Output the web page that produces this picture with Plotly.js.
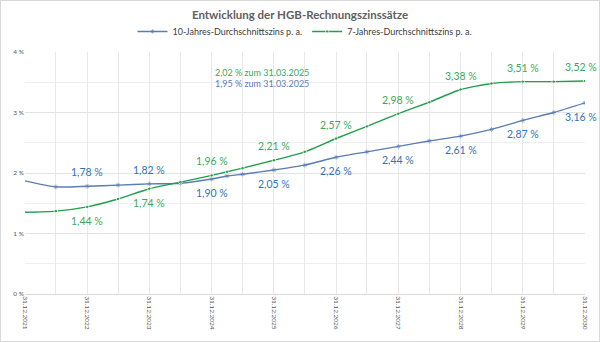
<!DOCTYPE html>
<html>
<head>
<meta charset="utf-8">
<script src="https://cdn.plot.ly/plotly-3.0.1.min.js"></script>
<style>
html,body{margin:0;padding:0;background:#fff;}
#wrap{position:absolute;left:0;top:0;width:598px;height:340px;border:1px solid #d9d9d9;}
#chart{position:absolute;left:-1px;top:-1px;width:600px;height:342px;}
</style>
</head>
<body>
<div id="wrap"><div id="chart"></div></div>
<script>
// Data
const dates = ['2021-12-31','2022-06-30','2022-12-31','2023-06-30','2023-12-31','2024-06-30','2024-12-31','2025-03-31','2025-06-30','2025-12-31','2026-06-30','2026-12-31','2027-06-30','2027-12-31','2028-06-30','2028-12-31','2029-06-30','2029-12-31','2030-06-30','2030-12-31'];
const zins10 = [1.87,1.77,1.78,1.80,1.82,1.83,1.90,1.95,1.98,2.05,2.13,2.26,2.35,2.44,2.53,2.61,2.72,2.87,3.00,3.16];
const zins7  = [1.35,1.37,1.44,1.57,1.74,1.85,1.96,2.02,2.08,2.21,2.35,2.57,2.77,2.98,3.17,3.38,3.48,3.51,3.51,3.52];
const name10 = '10-Jahres-Durchschnittszins p. a.';
const name7 = '7-Jahres-Durchschnittszins p. a.';
const yearEnds = ['2021-12-31','2022-12-31','2023-12-31','2024-12-31','2025-12-31','2026-12-31','2027-12-31','2028-12-31','2029-12-31','2030-12-31'];
const gridDates = ['2021-12-31','2022-06-30','2022-12-31','2023-06-30','2023-12-31','2024-06-30','2024-12-31','2025-06-30','2025-12-31','2026-06-30','2026-12-31','2027-06-30','2027-12-31','2028-06-30','2028-12-31','2029-06-30','2029-12-31','2030-06-30','2030-12-31'];
const stichtag = '2025-03-31';
// label placement: +1 above, -1 below (for year-end points 2022..2030)
const pos10 = [1,1,-1,-1,-1,-1,-1,-1,-1];
const pos7  = [-1,-1,1,1,1,1,1,1,1];

const blueLine = '#5a7db4', blueText = '#2f75b5';
const greenLine = '#1f9e4c', greenText = '#3aa95c';
const fontFam = 'Lato, "Open Sans", sans-serif';

function fmt(v){ return v.toFixed(2).replace('.', ',') + ' %'; }
function fmtDate(d){ const p=d.split('-'); return p[2]+'.'+p[1]+'.'+p[0]; }

const sizes = dates.map((d,i)=> i===0 ? 0 : 4);
const sizes7 = dates.map((d,i)=> i===0 ? 0 : 3.5);

const traces = [
  {x: dates, y: zins10, name: name10, type:'scatter', mode:'lines+markers',
   line:{color:blueLine, width:1.4, shape:'spline', smoothing:0.6},
   marker:{symbol:'asterisk-open', size:sizes, color:blueLine, line:{color:blueLine, width:0.8}}},
  {x: dates, y: zins7, name: name7, type:'scatter', mode:'lines+markers',
   line:{color:greenLine, width:1.4, shape:'spline', smoothing:0.6},
   marker:{symbol:'circle', size:sizes7, color:greenLine}}
];

const annotations = [];
yearEnds.slice(1).forEach((d,k)=>{
  const i = dates.indexOf(d);
  const last = k === yearEnds.length-2;
  annotations.push({x:d, y:zins10[i], xref:'x', yref:'y', text:fmt(zins10[i]), showarrow:false,
    yshift: pos10[k]*14, xshift: last ? -4 : 0, font:{family:fontFam, size:10.5, color:blueText}});
  annotations.push({x:d, y:zins7[i], xref:'x', yref:'y', text:fmt(zins7[i]), showarrow:false,
    yshift: pos7[k]*14, xshift: last ? -4 : 0, font:{family:fontFam, size:10.5, color:greenText}});
});
const si = dates.indexOf(stichtag);
annotations.push({xref:'paper', yref:'y', x:0.423, y:3.66, text: fmt(zins7[si]) + ' zum ' + fmtDate(stichtag),
  showarrow:false, font:{family:fontFam, size:9, color:greenText}});
annotations.push({xref:'paper', yref:'y', x:0.423, y:3.485, text: fmt(zins10[si]) + ' zum ' + fmtDate(stichtag),
  showarrow:false, font:{family:fontFam, size:9, color:blueLine}});

const layout = {
  width:600, height:342,
  margin:{l:25, r:15, t:52, b:48},
  paper_bgcolor:'rgba(0,0,0,0)', plot_bgcolor:'#fff',
  font:{family:fontFam, color:'#595959'},
  title:{text:'Entwicklung der HGB-Rechnungszinssätze', x:0.5, xanchor:'center', y:0.955, yanchor:'middle',
    font:{family:fontFam, size:11.5, color:'#606060', weight:700}},
  showlegend:true,
  legend:{orientation:'h', x:0.5, xanchor:'center', y:1.085, yanchor:'middle',
    font:{family:fontFam, size:9, color:'#404040'}, itemwidth:30, tracegroupgap:0},
  xaxis:{type:'date', range:['2021-12-31','2030-12-31'], tickmode:'array',
    tickvals: gridDates, ticktext: gridDates.map(d=> yearEnds.includes(d) ? fmtDate(d) : ''),
    tickangle:90, tickfont:{family:fontFam, size:6.5, color:'#595959'},
    showgrid:true, gridcolor:'#e8e8e8', gridwidth:1, zeroline:false,
    showline:true, linecolor:'#d9d9d9', ticks:'', fixedrange:true},
  yaxis:{range:[0,4], dtick:1, tick0:0, ticksuffix:' %', tickfont:{family:fontFam, size:6.5, color:'#595959'},
    showgrid:true, gridcolor:'#e3e3e3', zeroline:false, showline:false, ticks:'',
    minor:{dtick:0.5, showgrid:true, gridcolor:'#efefef'}, fixedrange:true},
  annotations: annotations
};

Plotly.newPlot('chart', traces, layout, {displayModeBar:false, staticPlot:true});
</script>
</body>
</html>
